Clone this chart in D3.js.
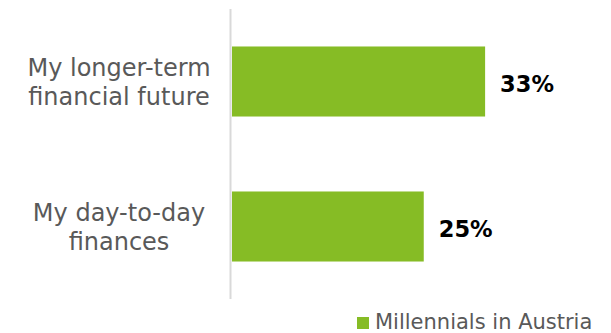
<!DOCTYPE html>
<html>
<head>
<meta charset="utf-8">
<script src="https://cdn.jsdelivr.net/npm/d3@7"></script>
<style>
  body { margin: 0; background: #fff; }
  svg { display: block; font-family: "DejaVu Sans", Verdana, sans-serif; }
</style>
</head>
<body>
<div id="chart"></div>
<script>
const categories = [
  ['My longer-term', 'financial future'],
  ['My day-to-day', 'finances']
];
const values = [33, 25];
const seriesName = 'Millennials in Austria';

const w = 611, h = 333;
const green = '#86bc25';

const svg = d3.select('#chart')
  .append('svg')
  .attr('width', w)
  .attr('height', h);

const yScale = d3.scaleBand()
  .domain(d3.range(categories.length))
  .range([9, 299])
  .paddingInner(0.517)
  .paddingOuter(0.2585);

const xScale = d3.scaleLinear()
  .domain([0, 40])
  .range([232, 232 + 40 * 7.67]);

// bars
svg.selectAll('rect.bar')
  .data(values)
  .join('rect')
  .attr('class', 'bar')
  .attr('x', xScale(0))
  .attr('y', (d, i) => yScale(i))
  .attr('width', d => xScale(d) - xScale(0))
  .attr('height', yScale.bandwidth())
  .attr('fill', green);

// vertical axis line
svg.append('line')
  .attr('x1', 230.5).attr('x2', 230.5)
  .attr('y1', 9).attr('y2', 299)
  .attr('stroke', '#d9d9d9')
  .attr('stroke-width', 2);

// value labels
svg.selectAll('text.val')
  .data(values)
  .join('text')
  .attr('class', 'val')
  .attr('x', d => xScale(d) + 15)
  .attr('y', (d, i) => yScale(i) + yScale.bandwidth() / 2 + 10.5)
  .attr('font-size', 22.5)
  .attr('font-weight', 'bold')
  .attr('fill', '#000')
  .text(d => d + '%');

// category labels
const cat = svg.selectAll('text.cat')
  .data(categories)
  .join('text')
  .attr('class', 'cat')
  .attr('text-anchor', 'middle')
  .attr('font-size', 24)
  .attr('fill', '#595959')
  .attr('y', (d, i) => yScale(i) + yScale.bandwidth() / 2 - 6);

cat.selectAll('tspan')
  .data(d => d)
  .join('tspan')
  .attr('x', 119)
  .attr('dy', (d, i) => i === 0 ? 0 : 29)
  .text(d => d);

// legend
const legend = svg.append('g');
legend.append('rect')
  .attr('x', 357).attr('y', 317)
  .attr('width', 12).attr('height', 12)
  .attr('fill', green);
legend.append('text')
  .attr('x', 375).attr('y', 329)
  .attr('font-size', 21)
  .attr('fill', '#595959')
  .text(seriesName);
</script>
</body>
</html>
